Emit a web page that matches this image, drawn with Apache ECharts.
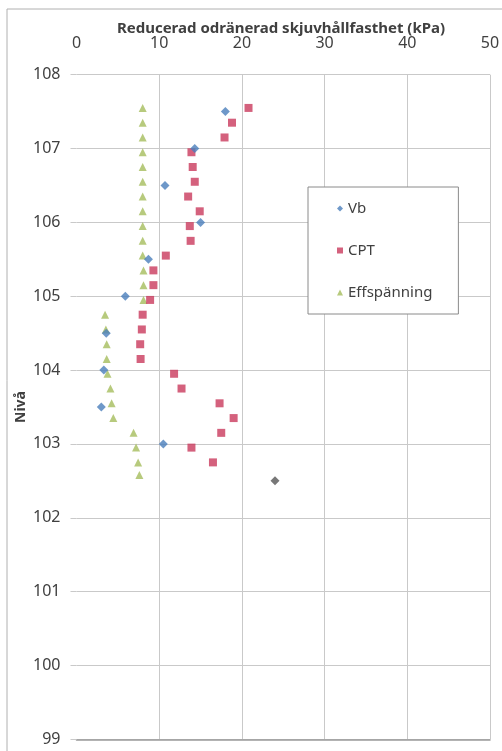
<!DOCTYPE html>
<html>
<head>
<meta charset="utf-8">
<script src="https://cdn.jsdelivr.net/npm/echarts@6/dist/echarts.min.js"></script>
<style>
  html, body { margin: 0; padding: 0; background: #fff; }
  #main { width: 502px; height: 751px; }
</style>
</head>
<body>
<div id="main"></div>
<script>
// nivåer (m) och hållfasthet (kPa)
const vbLevels = [107.5, 107.0, 106.5, 106.0, 105.5, 105.0, 104.5, 104.0, 103.5, 103.0, 102.5]
const vbValues = [18.0, 14.3, 10.7, 15.0, 8.7, 5.9, 3.6, 3.3, 3.0, 10.5, 24.0]

const cptLevels = [107.55, 107.35, 107.15, 106.95, 106.75, 106.55, 106.35, 106.15, 105.95, 105.75,
  105.55, 105.35, 105.15, 104.95, 104.75, 104.55, 104.35, 104.15, 103.95, 103.75,
  103.55, 103.35, 103.15, 102.95, 102.75]
const cptValues = [20.8, 18.8, 17.9, 13.9, 14.05, 14.3, 13.5, 14.9, 13.7, 13.8,
  10.8, 9.3, 9.3, 8.9, 8.0, 7.9, 7.7, 7.75, 11.8, 12.7,
  17.3, 19.0, 17.5, 13.9, 16.5]

const effLevels = [107.55, 107.35, 107.15, 106.95, 106.75, 106.55, 106.35, 106.15, 105.95, 105.75,
  105.55, 105.35, 105.15, 104.95, 104.75, 104.55, 104.35, 104.15, 103.95, 103.75,
  103.55, 103.35, 103.15, 102.95, 102.75, 102.58]
const effValues = [8.0, 8.0, 8.0, 8.0, 8.0, 8.0, 8.0, 8.0, 8.0, 8.0,
  8.0, 8.1, 8.1, 8.1, 3.45, 3.55, 3.65, 3.65, 3.75, 4.1,
  4.25, 4.45, 6.9, 7.2, 7.45, 7.6]

const xTicks = [0, 10, 20, 30, 40, 50]
const yTicks = [99, 100, 101, 102, 103, 104, 105, 106, 107, 108]

const seriesNames = ['Vb', 'CPT', 'Effspänning']

const font = 'Noto Sans'
const gridColor = '#c9c9c9'

function pairs(xs, ys) {
  return xs.map((x, i) => [x, ys[i]])
}

const chart = echarts.init(document.getElementById('main'), null, { renderer: 'canvas' })

// sista Vb-punkten är mörkgrå i originalet
const vbData = pairs(vbValues, vbLevels).map((p, i) => {
  if (i === vbValues.length - 1) {
    return { value: p, itemStyle: { color: '#555555' } }
  }
  return p
})

const option = {
  backgroundColor: '#ffffff',
  animation: false,
  textStyle: { fontFamily: font },
  title: {
    text: 'Reducerad odränerad skjuvhållfasthet (kPa)',
    left: 281,
    top: 21,
    textAlign: 'center',
    padding: 0,
    textStyle: { fontFamily: font, fontSize: 15, fontWeight: 'bold', color: '#404040' }
  },
  graphic: [
    {
      type: 'rect',
      shape: { x: 7, y: 9, width: 600, height: 800 },
      style: { fill: 'none', stroke: '#b0b0b0', lineWidth: 1 },
      silent: true
    }
  ],
  grid: {
    left: 76.5,
    right: 12,
    top: 74.7,
    bottom: 11.7,
    outerBoundsMode: 'none'
  },
  legend: {
    orient: 'vertical',
    left: 308,
    top: 187,
    padding: [14, 26, 14, 29],
    itemGap: 27,
    itemWidth: 6,
    itemHeight: 6,
    borderColor: '#8a8a8a',
    borderWidth: 1,
    backgroundColor: '#ffffff',
    textStyle: { fontFamily: font, fontSize: 15, color: '#404040' },
    data: [
      { name: seriesNames[0], icon: 'diamond' },
      { name: seriesNames[1], icon: 'rect' },
      { name: seriesNames[2], icon: 'triangle' }
    ]
  },
  xAxis: [
    {
      type: 'value',
      position: 'top',
      min: xTicks[0],
      max: xTicks[xTicks.length - 1],
      interval: 10,
      axisLine: { show: false },
      axisTick: { show: false },
      axisLabel: { fontFamily: font, fontSize: 16, color: '#404040', margin: 23 },
      splitLine: { show: true, showMinLine: false, lineStyle: { color: gridColor, width: 1 } }
    },
    {
      type: 'value',
      position: 'bottom',
      min: xTicks[0],
      max: xTicks[xTicks.length - 1],
      axisLine: { show: true, onZero: false, lineStyle: { color: '#9a9a9a', width: 1.5 } },
      axisTick: { show: false },
      axisLabel: { show: false },
      splitLine: { show: false }
    }
  ],
  yAxis: {
    type: 'value',
    min: yTicks[0],
    max: yTicks[yTicks.length - 1],
    interval: 1,
    name: 'Nivå',
    nameLocation: 'middle',
    nameGap: 48,
    nameMoveOverlap: false,
    nameRotate: 90,
    nameTextStyle: { fontFamily: font, fontSize: 14, fontWeight: 'bold', color: '#404040' },
    axisLine: { show: false },
    axisTick: { show: true, length: 6, lineStyle: { color: gridColor } },
    axisLabel: { fontFamily: font, fontSize: 16, color: '#404040', margin: 16 },
    splitLine: { show: true, lineStyle: { color: gridColor, width: 1 } }
  },
  series: [
    {
      name: seriesNames[0],
      type: 'scatter',
      symbol: 'diamond',
      symbolSize: 9,
      itemStyle: { color: '#4a7ebb' },
      data: vbData,
      z: 4
    },
    {
      name: seriesNames[1],
      type: 'scatter',
      symbol: 'rect',
      symbolSize: 8,
      itemStyle: { color: '#c93a5c' },
      data: pairs(cptValues, cptLevels),
      z: 3
    },
    {
      name: seriesNames[2],
      type: 'scatter',
      symbol: 'triangle',
      symbolSize: 8,
      itemStyle: { color: '#a5bd5c' },
      data: pairs(effValues, effLevels),
      z: 2
    }
  ]
}

chart.setOption(option)
</script>
</body>
</html>
